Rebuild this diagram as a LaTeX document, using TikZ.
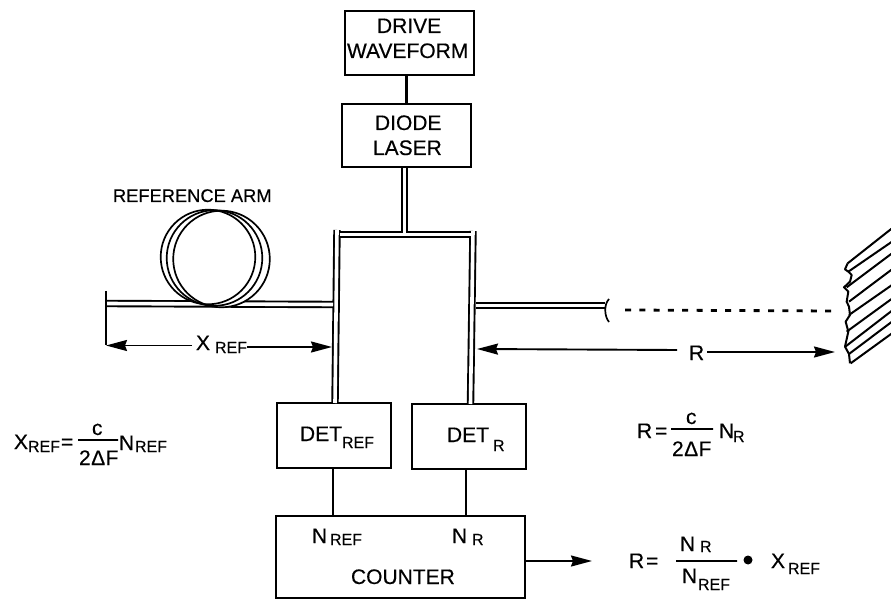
\documentclass[tikz,border=0pt]{standalone}
\usepackage{fontspec}
\setmainfont{Liberation Sans}[BoldFont={Liberation Sans},BoldFeatures={FakeBold=0.35}]
\usetikzlibrary{arrows.meta}
\tikzset{
  boxn/.style={draw=black,line width=2.1pt,inner sep=0pt,fill=none},
  lbl/.style={anchor=base west,inner sep=0pt,outer sep=0pt,text=black},
  fiber/.style={draw=black,double=white,double distance=3.6pt,line width=1.9pt},
  wire/.style={draw=black,line width=2.1pt},
  dim/.style={draw=black,line width=1.9pt},
  tip/.style={-{Stealth[length=21pt,width=11pt,inset=2pt]}},
  fracrule/.style={draw=black,inner sep=0pt,minimum height=0pt,line width=1.8pt},
  coil/.style={draw=black,line width=1.7pt},
  grate/.style={draw=black,line width=2pt,line join=round},
  big/.style={lbl,font=\bfseries\fontsize{21}{21}\selectfont},
  small/.style={lbl,font=\bfseries\fontsize{16}{16}\selectfont},
  mid/.style={lbl,font=\bfseries\fontsize{18.3}{18}\selectfont},
}
\begin{document}
\begin{tikzpicture}[x=1pt,y=-1pt]
\useasboundingbox (0,0) rectangle (891,601);
% boxes
\node[boxn,minimum width=129pt,minimum height=64pt] (drive) at (409.5,43) {};
\node[boxn,minimum width=129pt,minimum height=63pt] (diode) at (406.5,135.5) {};
\node[boxn,minimum width=114pt,minimum height=65pt] (detref) at (334,435.5) {};
\node[boxn,minimum width=114pt,minimum height=65pt] (detr) at (469,436.5) {};
\node[boxn,minimum width=249pt,minimum height=82pt] (counter) at (400.5,557) {};
% box texts
\node[big] (t1) at (377,33) {DRIVE};
\node[big] (t2) at (347,58) {WAVEFORM};
\node[big] (t3) at (375,130) {DIODE};
\node[big] (t4) at (373,155) {LASER};
\node[big] (t5) at (300,441) {DET};
\node[small] (t6) at (342,448) {REF};
\node[big] (t7) at (447,442) {DET};
\node[small] (t8) at (493,451) {R};
\node[big] (t9) at (312,543) {N};
\node[small] (t10) at (330,545) {REF};
\node[big] (t11) at (452,543) {N};
\node[small] (t12) at (472,545) {R};
\node[big] (t13) at (351,584) {COUNTER};
% simple connectors
\coordinate (nl) at (333,516);
\coordinate (nr) at (466,516);
\draw[wire] (diode.north) -- (diode.north |- drive.south);
\draw[wire] (nl |- detref.south) -- (nl);
\draw[wire] (nr |- detr.south) -- (nr);
% fibre frame
\coordinate (ftl) at (337,230);
\coordinate (ftr) at (473,231);
\coordinate (fbl) at (335,403);
\coordinate (fbr) at (470.5,404);
\coordinate (ttl) at (339.5,234.5);
\coordinate (ttr) at (470.5,234.5);
\coordinate (ftop) at (404.5,233);
\draw[fiber] (ftl) -- (fbl);
\draw[fiber] (ftr) -- (fbr);
\draw[fiber] (ttl) -- (ttr);
\draw[fiber] (diode.south -| ftop) -- (ftop);
% reference arm
\coordinate (armend) at (106,303.5);
\coordinate (armin) at (333,304.5);
\draw[fiber] (armend) -- (armin);
\fill[white] (208,257) circle (47.3pt) (214.5,258) circle (47.8pt) (221.5,259) circle (48.3pt);
\draw[coil] (208,257) circle (47.3pt);
\draw[coil] (214.5,258) circle (47.8pt);
\draw[coil] (221.5,259) circle (48.3pt);
\node[mid] (arm) at (113,202) {REFERENCE ARM};
% X_REF dimension
\coordinate (xtop) at (106,291);
\coordinate (xbot) at (106,345.5);
\coordinate (xrt) at (332,347);
\draw[dim] (xtop) -- (xbot);
\node[big] (xx) at (196,350) {X};
\node[small] (xr) at (215,353) {REF};
\draw[dim,tip] (192,345.5) -- (xbot);
\draw[dim,tip] (xr.east |- xrt) -- (xrt);
% measurement arm
\coordinate (rout) at (476,305.5);
\coordinate (lens) at (605,305.5);
\draw[fiber] (rout) -- (lens);
\draw[line width=1.7pt] (609,299) .. controls (604,304) and (604,316) .. (609,322);
\coordinate (dstart) at (625,310);
\coordinate (dend) at (833,311);
\draw[line width=2.8pt,dash pattern=on 6pt off 8.3pt] (dstart) -- (dend);
% R dimension
\node[big] (rr) at (689,360) {R};
\coordinate (rl) at (477,349);
\coordinate (rrt) at (835,352);
\draw[dim,tip] (677,350) -- (rl);
\draw[dim,tip] (707,352) -- (rrt);
% grating
\begin{scope}[shift={(700,200)},x=0.3333pt,y=-0.3333pt]
\draw[grate] (443,190) -- (576,85);
\draw[grate] (445,215) -- (576,125);
\draw[grate] (440,262) -- (576,160);
\draw[grate] (447,305) -- (576,208);
\draw[grate] (447,345) -- (576,255);
\draw[grate] (440,395) -- (576,296);
\draw[grate] (436,440) -- (576,332);
\draw[grate] (447,462) -- (576,365);
\draw[grate] (452,490) -- (576,400);
\draw[grate] (443,190) -- (435,208) -- (445,215) -- (455,225) -- (450,245) -- (432,262)
  -- (445,275) -- (440,305) -- (447,320) -- (450,345) -- (437,365) -- (445,395)
  -- (435,440) -- (447,462) -- (450,490);
\end{scope}
% counter output
\coordinate (cout) at (592,561);
\draw[dim,tip] (counter.east |- cout) -- (cout);
% formula left
\node[big] (f1) at (14,449) {X};
\node[small] (f2) at (28,452) {REF};
\node[big] (f3) at (61,449) {=};
\node[big] (f4) at (92,435) {c};
\node[fracrule,minimum width=40pt] (f5) at (98,440) {};
\node[big] (f6) at (79,465) {2\kern0.5ptΔ\kern0.5ptF};
\node[big] (f7) at (119,450) {N};
\node[small] (f8) at (135,452) {REF};
% formula middle
\node[big] (g1) at (637,438) {R};
\node[big] (g2) at (655,438) {=};
\node[big] (g3) at (686,424) {c};
\node[fracrule,minimum width=42pt] (g4) at (692,429) {};
\node[big] (g5) at (672,456) {2\kern0.5ptΔ\kern0.5ptF};
\node[big] (g6) at (719,438) {N};
\node[small] (g7) at (733,442) {R};
% formula right
\node[big] (h1) at (629,568) {R};
\node[big] (h2) at (646,568) {=};
\node[big] (h3) at (680,551) {N};
\node[small] (h4) at (700,552) {R};
\node[fracrule,minimum width=61pt] (h5) at (706.5,561) {};
\node[big] (h6) at (682,583) {N};
\node[small] (h7) at (698,590) {REF};
\node[circle,fill=black,inner sep=0pt,minimum size=9pt] (h8) at (748,560) {};
\node[big] (h9) at (771,568) {X};
\node[small] (h10) at (788,574) {REF};
\end{tikzpicture}
\end{document}
